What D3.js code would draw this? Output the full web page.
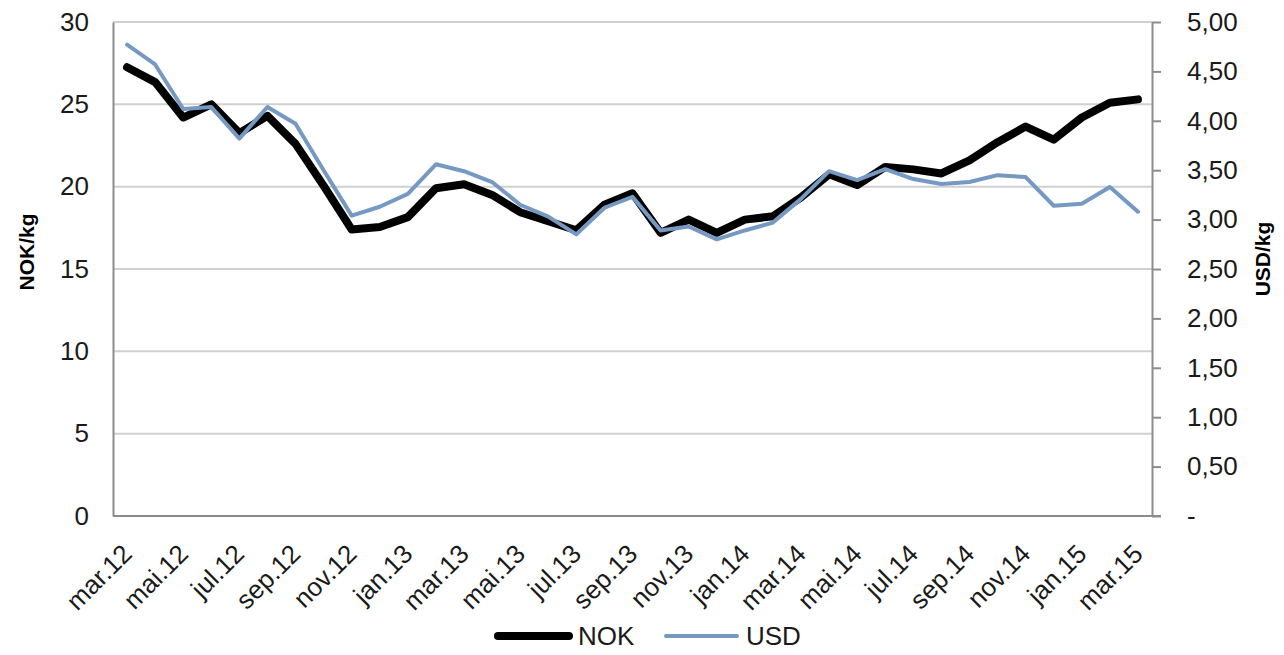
<!DOCTYPE html>
<html>
<head>
<meta charset="utf-8">
<script src="https://cdn.jsdelivr.net/npm/d3@7"></script>
<style>
  html, body { margin: 0; padding: 0; background: #fff; }
  svg { display: block; font-family: "Liberation Sans", Arial, sans-serif; }
</style>
</head>
<body>
<svg id="chart" width="1284" height="655"></svg>
<script>
const categories = [
  "mar.12","apr.12","mai.12","jun.12","jul.12","aug.12","sep.12","okt.12","nov.12","des.12",
  "jan.13","feb.13","mar.13","apr.13","mai.13","jun.13","jul.13","aug.13","sep.13","okt.13","nov.13","des.13",
  "jan.14","feb.14","mar.14","apr.14","mai.14","jun.14","jul.14","aug.14","sep.14","okt.14","nov.14","des.14",
  "jan.15","feb.15","mar.15"
];
const nokValues = [
  27.25, 26.35, 24.2, 25.0, 23.25, 24.3, 22.6, 20.05, 17.4, 17.55,
  18.15, 19.9, 20.15, 19.5, 18.45, 17.9, 17.35, 18.9, 19.6, 17.2, 18.0, 17.2,
  18.0, 18.2, 19.35, 20.75, 20.1, 21.2, 21.05, 20.8, 21.6, 22.7, 23.65, 22.85,
  24.2, 25.1, 25.3
];
const usdValues = [
  4.77, 4.57, 4.12, 4.14, 3.82, 4.14, 3.97, 3.50, 3.04, 3.13,
  3.26, 3.56, 3.49, 3.38, 3.15, 3.03, 2.85, 3.12, 3.23, 2.89, 2.93, 2.80,
  2.89, 2.97, 3.21, 3.49, 3.40, 3.51, 3.41, 3.36, 3.38, 3.45, 3.43, 3.14,
  3.16, 3.33, 3.08
];
const leftTicks = [0, 5, 10, 15, 20, 25, 30];
const rightTicks = [0, 0.5, 1, 1.5, 2, 2.5, 3, 3.5, 4, 4.5, 5];
const shownLabels = categories.filter((d, i) => i % 2 === 0);
const seriesNames = ["NOK", "USD"];

const svg = d3.select("#chart");
const L = 113, R = 1152, T = 22, B = 516;
const FS = 26;

const x = d3.scaleBand().domain(categories).range([L, R]).padding(0);
const cx = d => x(d) + x.bandwidth() / 2;
const yL = d3.scaleLinear().domain([0, 30]).range([B, T]);
const yR = d3.scaleLinear().domain([0, 5]).range([B, T]);

// gridlines
svg.append("g").selectAll("line").data(leftTicks.filter(d => d > 0)).join("line")
  .attr("x1", L).attr("x2", R)
  .attr("y1", d => yL(d)).attr("y2", d => yL(d))
  .attr("stroke", "#d0d0d0").attr("stroke-width", 2);

// left axis
const gl = svg.append("g").attr("transform", `translate(${L},0)`)
  .call(d3.axisLeft(yL).tickValues(leftTicks).tickSize(0).tickPadding(24).tickFormat(d3.format("d")));
gl.select(".domain").attr("stroke", "#8c8c8c").attr("stroke-width", 2);
gl.selectAll("text").attr("font-size", FS).attr("fill", "#1a1a1a").attr("font-family", "Liberation Sans, Arial, sans-serif");

// right axis
const fmtR = d => d === 0 ? "-" : d.toFixed(2).replace(".", ",");
const gr = svg.append("g").attr("transform", `translate(${R},0)`)
  .call(d3.axisRight(yR).tickValues(rightTicks).tickSize(9).tickPadding(26).tickSizeOuter(0).tickFormat(fmtR));
gr.select(".domain").attr("stroke", "#8c8c8c").attr("stroke-width", 2);
gr.selectAll("line").attr("stroke", "#8c8c8c").attr("stroke-width", 2);
gr.selectAll("text").attr("font-size", FS).attr("fill", "#1a1a1a").attr("font-family", "Liberation Sans, Arial, sans-serif");

// bottom axis
const gb = svg.append("g").attr("transform", `translate(0,${B})`)
  .call(d3.axisBottom(x).tickValues(shownLabels).tickSize(0).tickSizeOuter(0).tickFormat(d => d));
gb.select(".domain").attr("d", `M${L},0H${R + 9}`).attr("stroke", "#8c8c8c").attr("stroke-width", 2);
gb.selectAll("text")
  .attr("font-size", FS).attr("fill", "#1a1a1a").attr("font-family", "Liberation Sans, Arial, sans-serif")
  .attr("text-anchor", "end")
  .attr("y", 0).attr("dy", "0.35em")
  .attr("transform", "translate(0,33) rotate(-45)");

// lines
const lineL = d3.line().x((d, i) => cx(categories[i])).y(d => yL(d));
const lineR = d3.line().x((d, i) => cx(categories[i])).y(d => yR(d));

svg.append("path").datum(nokValues).attr("d", lineL)
  .attr("fill", "none").attr("stroke", "#000").attr("stroke-width", 8)
  .attr("stroke-linejoin", "round").attr("stroke-linecap", "round");
svg.append("path").datum(usdValues).attr("d", lineR)
  .attr("fill", "none").attr("stroke", "#7599c2").attr("stroke-width", 4)
  .attr("stroke-linejoin", "round").attr("stroke-linecap", "round");

// axis titles
svg.append("text").text("NOK/kg")
  .attr("transform", "translate(34,252) rotate(-90)")
  .attr("text-anchor", "middle").attr("font-size", 21).attr("font-weight", "bold").attr("fill", "#000");
svg.append("text").text("USD/kg")
  .attr("transform", "translate(1270,259) rotate(-90)")
  .attr("text-anchor", "middle").attr("font-size", 21).attr("font-weight", "bold").attr("fill", "#000");

// legend
const legend = [
  { name: seriesNames[0], color: "#000", w: 8, x1: 498, x2: 569, tx: 578 },
  { name: seriesNames[1], color: "#7599c2", w: 4, x1: 666, x2: 737, tx: 746 }
];
const lg = svg.append("g");
lg.selectAll("line").data(legend).join("line")
  .attr("x1", d => d.x1).attr("x2", d => d.x2).attr("y1", 636).attr("y2", 636)
  .attr("stroke", d => d.color).attr("stroke-width", d => d.w).attr("stroke-linecap", "round");
lg.selectAll("text").data(legend).join("text")
  .attr("x", d => d.tx).attr("y", 636).attr("dy", "0.36em")
  .attr("font-size", FS).attr("fill", "#1a1a1a").text(d => d.name);
</script>
</body>
</html>
